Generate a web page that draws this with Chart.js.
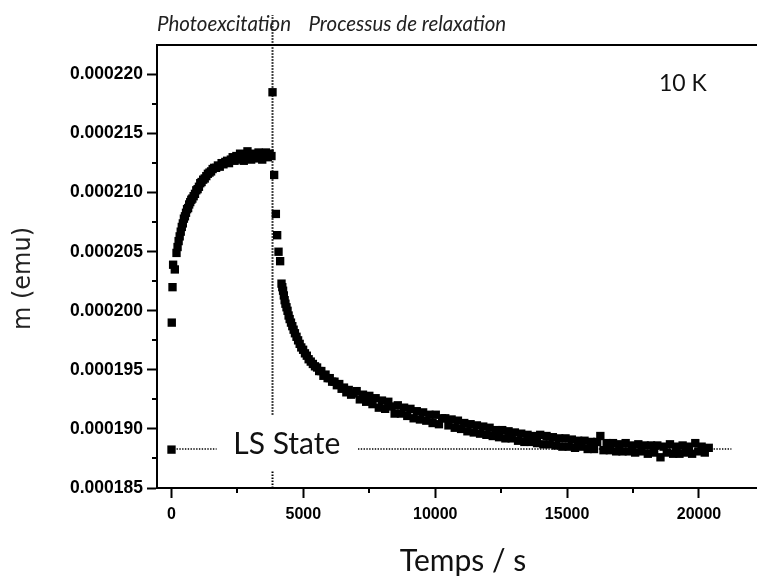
<!DOCTYPE html>
<html><head><meta charset="utf-8">
<script src="https://cdn.jsdelivr.net/npm/chart.js@4/dist/chart.umd.min.js"></script>
<style>html,body{margin:0;padding:0;background:#fff}#wrap{width:757px;height:578px;position:relative}</style>
</head><body><div id="wrap"><canvas id="c" width="757" height="578"></canvas></div>
<script>
// ---- data: [time (s), magnetic moment (micro-emu)] ----
const lsPoint = [[0, 188.25]];
const risePoints = [
  [10,199.0],[38,202.0],[61,203.9],[125,203.5],[190,204.9],[230,205.4],[270,205.9],[310,206.3],[350,206.7],[390,207.1],
  [430,207.4],[470,207.8],[510,208.0],[550,208.3],[590,208.6],[630,208.7],[670,209.0],[710,209.2],[750,209.4],[790,209.5],
  [840,209.7],[890,209.9],[940,210.2],[990,210.3],[1040,210.5],[1090,210.8],[1140,210.9],[1200,211.1],[1260,211.2],[1320,211.4],
  [1380,211.6],[1440,211.7],[1500,211.8],[1560,212.0],[1620,212.1],[1690,212.1],[1760,212.3],[1830,212.2],[1900,212.5],[1970,212.4],
  [2040,212.6],[2110,212.7],[2180,212.5],[2250,212.8],[2320,213.0],[2390,212.7],[2460,213.1],[2530,212.8],[2600,213.3],[2670,213.0],
  [2740,212.7],[2810,213.2],[2880,213.5],[2950,213.1],[3020,212.8],[3090,213.3],[3160,213.0],[3230,212.9],[3300,213.4],[3370,213.1],
  [3440,212.8],[3510,213.2],[3580,213.4],[3650,213.0],[3720,213.3],[3790,213.1]
];
const decayPoints = [
  [3830,218.5],[3892,211.5],[3957,208.2],[4006,206.4],[4058,205.0],[4119,204.2],[4171,202.3],[4200,202.0],[4230,201.7],[4260,201.3],
  [4290,200.9],[4320,200.6],[4360,200.3],[4400,200.0],[4440,199.6],[4480,199.3],[4530,199.0],[4580,198.7],[4630,198.4],[4680,198.1],
  [4740,197.8],[4800,197.5],[4860,197.2],[4920,196.9],[4990,196.7],[5060,196.4],[5130,196.2],[5200,195.9],[5280,195.7],[5360,195.5],
  [5440,195.3],[5520,195.2],[5600,194.9],[5680,194.9],[5760,194.5],[5840,194.6],[5920,194.3],[6000,194.3],[6090,194.0],[6180,194.0],
  [6270,193.7],[6360,193.8],[6450,193.4],[6540,193.5],[6630,193.1],[6720,193.3],[6810,192.9],
  [6900,193.0],[7020,193.2],[7140,192.5],[7260,192.9],[7380,192.3],[7500,192.8],[7620,192.1],[7740,192.6],[7860,191.8],[7980,192.4],
  [8100,191.7],[8220,192.3],[8340,191.9],[8460,191.3],[8580,192.0],[8700,191.3],[8820,191.8],[8940,191.1],[9060,191.7],[9180,190.9],
  [9300,191.5],[9420,190.8],[9540,191.4],[9660,190.7],[9780,191.2],[9900,190.5],[10020,191.2],[10140,190.4],[10260,190.9],[10380,190.9],
  [10500,190.3],[10620,190.8],[10740,190.1],[10860,190.7],[10980,190.0],[11100,190.5],[11220,189.8],[11340,190.4],[11460,189.7],[11580,190.3],
  [11700,189.6],[11820,190.2],[11940,189.5],[12060,190.1],[12180,189.4],[12300,189.9],[12420,189.3],[12540,189.9],[12660,189.2],[12780,189.8],
  [12900,189.2],[13020,189.7],[13140,189.0],[13260,189.6],[13380,188.9],[13500,189.5],[13620,188.9],[13740,189.4],[13860,188.8],[13980,189.5],
  [14100,188.7],[14220,189.4],[14340,188.7],[14460,189.3],[14580,188.6],[14700,189.2],[14820,188.5],[14940,189.2],[15060,188.5],[15180,189.1],
  [15300,188.4],[15420,189.0],[15540,188.5],[15660,189.0],[15780,188.3],[15900,188.9],[16020,188.3],[16140,188.9],[16260,189.4],[16380,188.2],
  [16500,188.8],[16620,188.2],[16740,188.8],[16860,188.1],[16980,188.7],[17100,188.1],[17220,188.8],[17340,188.1],[17460,188.6],[17580,188.0],
  [17700,188.7],[17820,188.1],[17940,188.6],[18060,187.9],[18180,188.6],[18300,188.0],[18420,188.6],[18540,187.6],[18660,188.5],[18780,188.0],
  [18900,188.7],[19020,187.9],[19140,188.5],[19260,187.9],[19380,188.6],[19500,188.0],[19620,188.5],[19740,187.9],[19860,188.8],[19980,188.1],
  [20100,188.5],[20220,188.0],[20370,188.4]
];
const lsLevel = 188.3;
const lsLineLeft = [190, 1710];
const lsLineRight = [7070, 21230];
const lightOffTime = 3830;
const lightOffLower = [185, 186.5];
const lightOffUpper = [191.2, 225.05];
const xTickValues = [0, 5000, 10000, 15000, 20000];
const xMinorTicks = [2500, 7500, 12500, 17500];
const yTickValues = [185, 190, 195, 200, 205, 210, 215, 220];
const yMinorTicks = [187.5, 192.5, 197.5, 202.5, 207.5, 212.5, 217.5];

const toPts = arr => arr.map(p => ({x: p[0], y: p[1]}));

const extras = {
  id: 'extras',
  afterDraw(chart) {
    const ctx = chart.ctx, a = chart.chartArea;
    const xs = chart.scales.x, ys = chart.scales.y;
    ctx.save();
    ctx.strokeStyle = '#000'; ctx.lineWidth = 2;
    yMinorTicks.forEach(v => { const p = Math.round(ys.getPixelForValue(v)); ctx.beginPath(); ctx.moveTo(a.left - 5, p); ctx.lineTo(a.left, p); ctx.stroke(); });
    xMinorTicks.forEach(v => { const p = Math.round(xs.getPixelForValue(v)); ctx.beginPath(); ctx.moveTo(p, a.bottom); ctx.lineTo(p, a.bottom + 5); ctx.stroke(); });
    ctx.fillStyle = '#222';
    ctx.textBaseline = 'alphabetic';
    ctx.textAlign = 'left';
    ctx.font = 'italic 20.5px Lato';
    ctx.fillText('Photoexcitation', 157, 31);
    ctx.fillText('Processus de relaxation', 308.5, 31);
    ctx.fillStyle = '#111';
    ctx.font = '23px Lato';
    ctx.fillText('10 K', 659, 90.5);
    ctx.font = '30px Lato';
    ctx.textAlign = 'center';
    ctx.fillText('LS State', xs.getPixelForValue(4370), 454);
    ctx.fillText('Temps / s', 463, 571);
    ctx.save();
    ctx.translate(24, 278.5);
    ctx.rotate(-Math.PI / 2);
    ctx.font = '24px "DejaVu Sans"';
    ctx.fillStyle = '#222';
    ctx.textBaseline = 'middle';
    ctx.fillText('m (emu)', 0, 0);
    ctx.restore();
    ctx.restore();
  }
};

const pointStyleOpts = {pointStyle: 'rect', pointRadius: 5.9, pointBorderWidth: 0, backgroundColor: '#000', borderColor: '#000', showLine: false, order: 0};
const dotLine = {showLine: true, pointRadius: 0, borderColor: '#000', order: 1};

new Chart(document.getElementById('c'), {
  type: 'scatter',
  data: {
    datasets: [
      Object.assign({label: 'LS', data: toPts(lsPoint)}, pointStyleOpts),
      Object.assign({label: 'rise', data: toPts(risePoints)}, pointStyleOpts),
      Object.assign({label: 'decay', data: toPts(decayPoints)}, pointStyleOpts),
      Object.assign({label: 'lsL', data: lsLineLeft.map(x => ({x: x, y: lsLevel})), borderWidth: 1.5, borderDash: [1.4, 1.4]}, dotLine),
      Object.assign({label: 'lsR', data: lsLineRight.map(x => ({x: x, y: lsLevel})), borderWidth: 1.5, borderDash: [1.4, 1.4]}, dotLine),
      Object.assign({label: 'off1', data: lightOffLower.map(y => ({x: lightOffTime, y: y})), borderWidth: 2, borderDash: [1.5, 1.5], clip: false}, dotLine),
      Object.assign({label: 'off2', data: lightOffUpper.map(y => ({x: lightOffTime, y: y})), borderWidth: 2, borderDash: [1.5, 1.5], clip: false}, dotLine)
    ]
  },
  options: {
    responsive: false,
    animation: false,
    devicePixelRatio: 1,
    layout: {padding: 0, autoPadding: false},
    plugins: {legend: {display: false}, tooltip: {enabled: false}},
    scales: {
      x: {
        type: 'linear', position: 'bottom', min: -550, max: 22200,
        afterBuildTicks: s => { s.ticks = xTickValues.map(v => ({value: v})); },
        afterFit: s => { s.height = 90; },
        ticks: {autoSkip: false, maxRotation: 0, padding: 7, color: '#000', font: {family: 'Liberation Sans', weight: 'bold', size: 16}, callback: v => String(v)},
        grid: {display: true, drawOnChartArea: false, drawTicks: true, tickLength: 10, tickWidth: 2, tickColor: '#000', color: '#000'},
        border: {display: true, color: '#000', width: 2}
      },
      x2: {
        type: 'linear', position: 'top', min: -550, max: 22200,
        afterFit: s => { s.height = 45; },
        ticks: {display: false},
        grid: {display: false},
        border: {display: true, color: '#000', width: 2}
      },
      y: {
        type: 'linear', position: 'left', min: 185, max: 222.5,
        afterBuildTicks: s => { s.ticks = yTickValues.map(v => ({value: v})); },
        afterFit: s => { s.width = 157; },
        ticks: {autoSkip: false, padding: 4, color: '#000', font: {family: 'Liberation Sans', weight: 'bold', size: 17.5}, callback: v => (v / 1e6).toFixed(6)},
        grid: {display: true, drawOnChartArea: false, drawTicks: true, tickLength: 10, tickWidth: 2, tickColor: '#000', color: '#000'},
        border: {display: true, color: '#000', width: 2}
      }
    }
  },
  plugins: [extras]
});
</script>
</body></html>
